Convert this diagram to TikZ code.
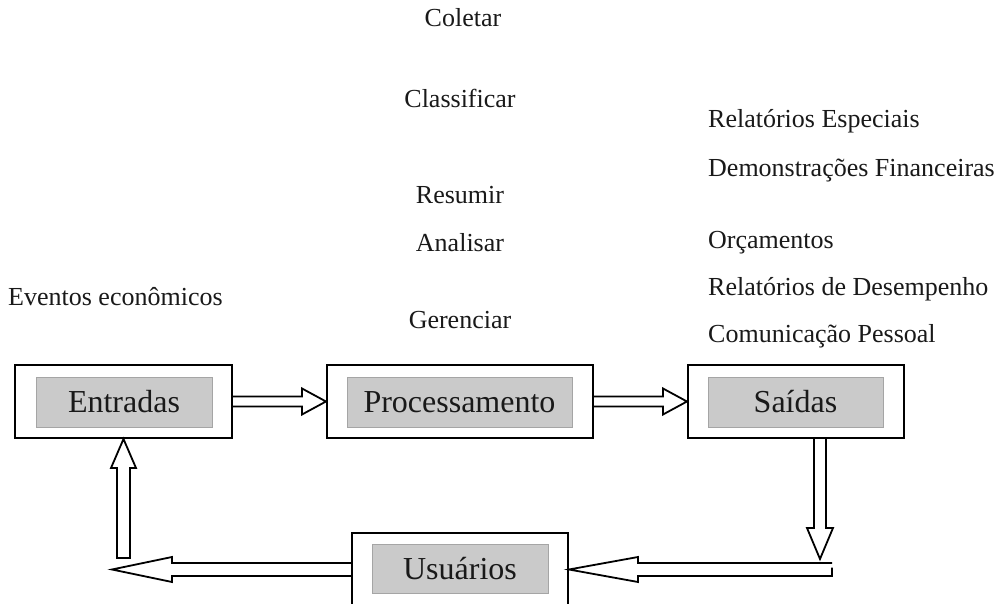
\documentclass[tikz,border=0pt]{standalone}
\usepackage{fontspec}
\setmainfont{Liberation Serif}
\usetikzlibrary{calc}
\definecolor{boxgray}{RGB}{202,202,202}
\definecolor{boxedge}{RGB}{165,165,165}
\definecolor{ink}{RGB}{25,25,25}
\tikzset{
  outerbox/.style={draw=black, line width=2pt, fill=white, inner sep=0pt},
  innerbox/.style={draw=boxedge, line width=1pt, fill=boxgray, inner sep=0pt,
    font=\fontsize{32}{36}\selectfont, text=ink},
  lbl/.style={anchor=base, inner sep=0pt, font=\fontsize{26}{30}\selectfont, text=ink},
  lblw/.style={anchor=base west, inner sep=0pt, font=\fontsize{26}{30}\selectfont, text=ink},
  hollow/.style={draw=black, line width=1.8pt, line join=miter},
}
\begin{document}
\begin{tikzpicture}[x=1pt,y=-1pt]
\useasboundingbox (0,0) rectangle (1005,604);
% texts
\node[lbl] (t1) at (463,27) {Coletar};
\node[lbl] (t2) at (460,108) {Classificar};
\node[lbl] (t3) at (460,204) {Resumir};
\node[lbl] (t4) at (460,252) {Analisar};
\node[lbl] (t5) at (460,329) {Gerenciar};
\node[lblw] (ev) at (8,306) {Eventos econômicos};
\node[lblw] (r1) at (708,128) {Relatórios Especiais};
\node[lblw] (r2) at (708,177) {Demonstrações Financeiras};
\node[lblw] (r3) at (708,249) {Orçamentos};
\node[lblw] (r4) at (708,296) {Relatórios de Desempenho};
\node[lblw] (r5) at (708,343) {Comunicação Pessoal};
% boxes
\node[outerbox, minimum width=217pt, minimum height=73pt] (entr) at (123.5,401.5) {};
\node[innerbox, minimum width=176pt, minimum height=50pt] (entrl) at (124,402) {Entradas};
\node[outerbox, minimum width=266pt, minimum height=73pt] (proc) at (460,401.5) {};
\node[innerbox, minimum width=225pt, minimum height=50pt] (procl) at (459.5,402) {Processamento};
\node[outerbox, minimum width=216pt, minimum height=73pt] (sai) at (796,401.5) {};
\node[innerbox, minimum width=175pt, minimum height=50pt] (sail) at (795.5,402) {Saídas};
\node[outerbox, minimum width=216pt, minimum height=76pt] (usu) at (460,571) {};
\node[innerbox, minimum width=176pt, minimum height=49pt] (usul) at (460,568.5) {Usuários};
% helper coordinates
\coordinate (dtop) at ($(sai.south)+(24,0)$);
\coordinate (dtip) at (820,559);
\coordinate (br) at (832,569.5);
\coordinate (ltip) at (112,569.5);
\coordinate (ubot) at (123.5,558);
% Entradas -> Processamento
\draw[hollow] ($(entr.east)+(0,-5)$) -- ($(proc.west)+(-24,-5)$) -- ($(proc.west)+(-24,-13)$)
  -- (proc.west) -- ($(proc.west)+(-24,13)$) -- ($(proc.west)+(-24,5)$) -- ($(entr.east)+(0,5)$);
% Processamento -> Saidas
\draw[hollow] ($(proc.east)+(0,-5)$) -- ($(sai.west)+(-24,-5)$) -- ($(sai.west)+(-24,-13)$)
  -- (sai.west) -- ($(sai.west)+(-24,13)$) -- ($(sai.west)+(-24,5)$) -- ($(proc.east)+(0,5)$);
% Saidas down
\draw[hollow] ($(dtop)+(-6,0)$) -- ($(dtip)+(-6,-31)$) -- ($(dtip)+(-13,-31)$)
  -- (dtip) -- ($(dtip)+(13,-31)$) -- ($(dtip)+(6,-31)$) -- ($(dtop)+(6,0)$);
% bottom right -> Usuarios
\draw[hollow] ($(br)+(0,-2)$) -- ($(br)+(0,6.5)$) -- ($(usu.east |- br)+(69,6.5)$) -- ($(usu.east |- br)+(69,12.5)$)
  -- (usu.east |- br) -- ($(usu.east |- br)+(69,-12.5)$) -- ($(usu.east |- br)+(69,-6.5)$) -- ($(br)+(0,-6.5)$);
% Usuarios -> left
\draw[hollow] ($(usu.west |- ltip)+(0,-6.5)$) -- ($(ltip)+(60,-6.5)$) -- ($(ltip)+(60,-12.5)$)
  -- (ltip) -- ($(ltip)+(60,12.5)$) -- ($(ltip)+(60,6.5)$) -- ($(usu.west |- ltip)+(0,6.5)$);
% up to Entradas
\draw[hollow] ($(ubot)+(-6.5,0)$) -- ($(entr.south)+(-6.5,29)$) -- ($(entr.south)+(-12.5,29)$)
  -- (entr.south) -- ($(entr.south)+(12.5,29)$) -- ($(entr.south)+(6.5,29)$) -- ($(ubot)+(6.5,0)$) -- cycle;
\end{tikzpicture}
\end{document}
